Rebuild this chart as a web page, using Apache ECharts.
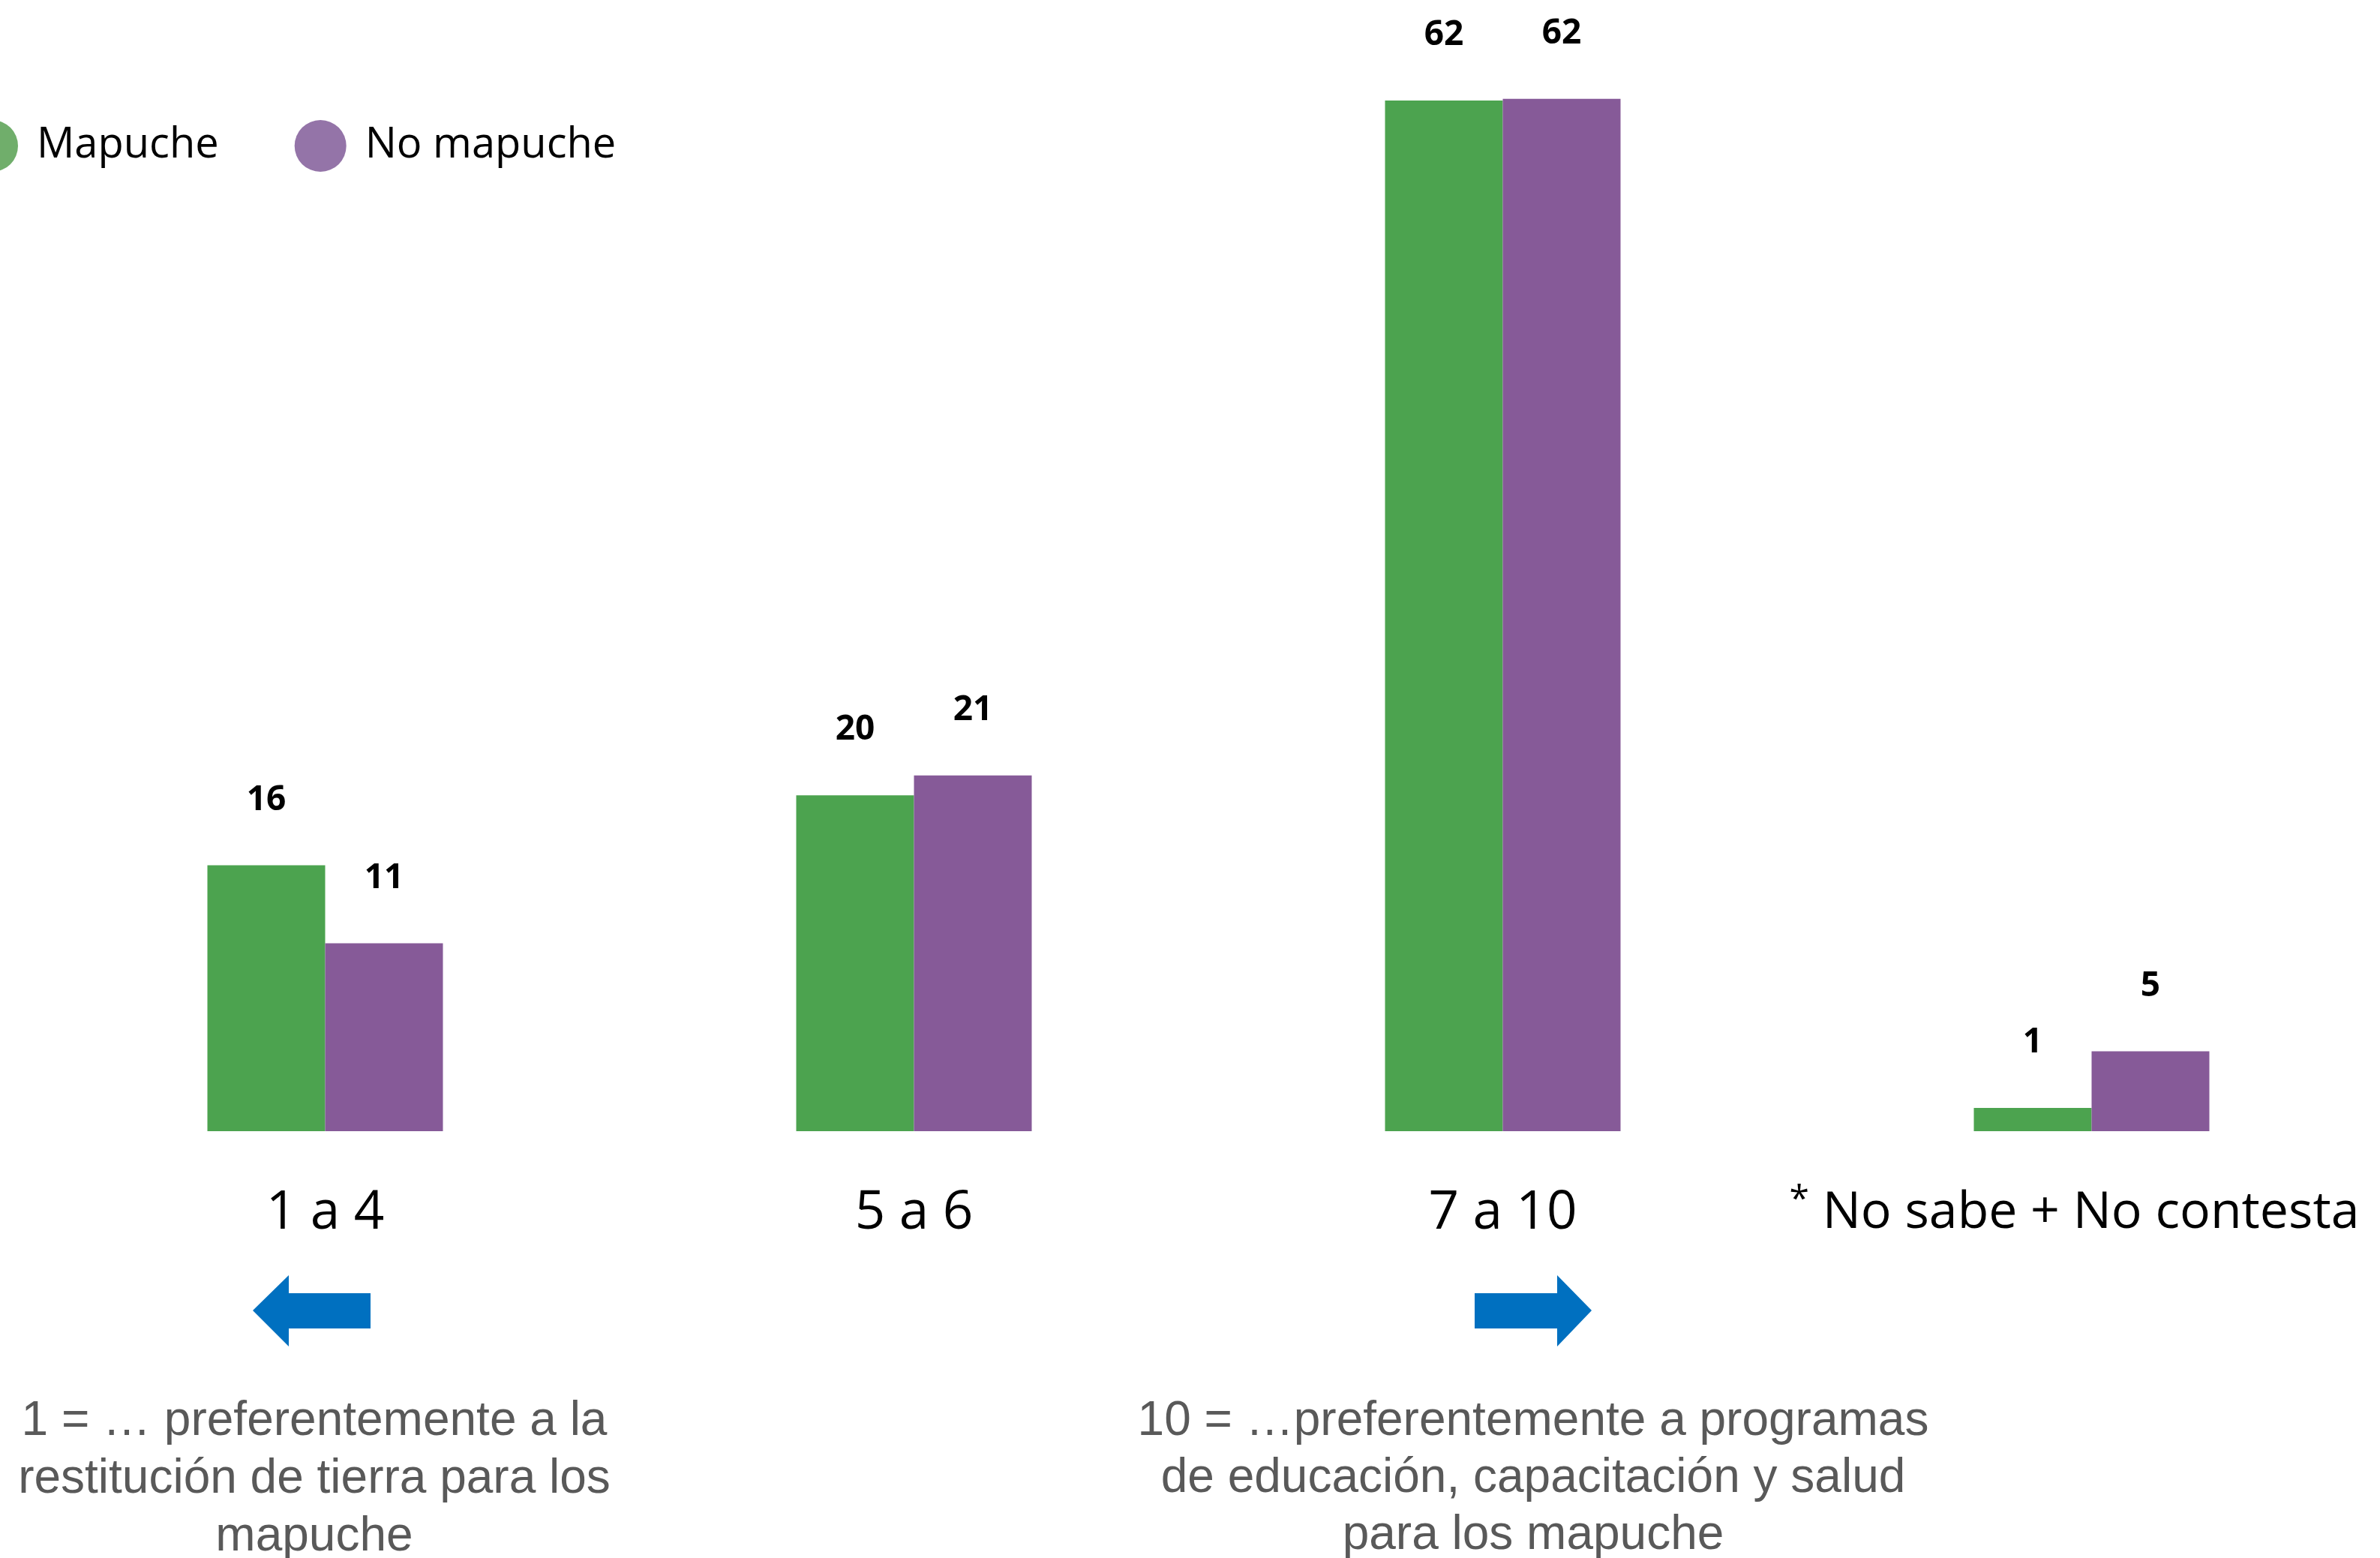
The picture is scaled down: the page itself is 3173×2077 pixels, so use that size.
<!DOCTYPE html>
<html>
<head>
<meta charset="utf-8">
<script src="https://cdn.jsdelivr.net/npm/echarts@6/dist/echarts.min.js"></script>
<style>
html,body{margin:0;padding:0;background:#fff;}
#chart{width:3173px;height:2077px;}
</style>
</head>
<body>
<div id="chart"></div>
<script>
// ---- data ----
var categories = ['1 a 4', '5 a 6', '7 a 10', '* No sabe + No contesta'];
var seriesNames = ['Mapuche', 'No mapuche'];
var mapucheValues = [16, 20.2, 62, 1.4];
var noMapucheValues = [11.3, 21.4, 62.1, 4.8];
var leftNote = '1 = \u2026 preferentemente a la\nrestituci\u00f3n de tierra para los\nmapuche';
var rightNote = '10 = \u2026preferentemente a programas\nde educaci\u00f3n, capacitaci\u00f3n y salud\npara los mapuche';

var GREEN = '#4CA34F';
var PURPLE = '#865A98';
var ARROW = '#0070C0';

var chart = echarts.init(document.getElementById('chart'), null, {renderer: 'canvas'});

var labelStyle = {
  show: true,
  position: 'top',
  distance: 64,
  fontSize: 46,
  fontWeight: 'bold',
  fontFamily: 'Noto Sans',
  color: '#000',
  formatter: function (p) { return Math.round(p.value); }
};

var option = {
  backgroundColor: '#fff',
  animation: false,
  legend: {
    left: -50,
    top: 155,
    itemWidth: 69,
    itemHeight: 69,
    itemGap: 101,
    icon: 'circle',
    textStyle: {fontSize: 56, fontFamily: 'Open Sans', color: '#000', padding: [0, 0, 0, 20]},
    data: [
      {name: seriesNames[0], itemStyle: {color: '#70AE6B'}},
      {name: seriesNames[1], itemStyle: {color: '#9474A8'}}
    ]
  },
  grid: {left: 41, top: 1, width: 3140, height: 1507, containLabel: false, outerBoundsMode: 'none'},
  xAxis: {
    type: 'category',
    data: categories,
    axisLine: {show: false},
    axisTick: {show: false},
    axisLabel: {
      margin: 68,
      fontSize: 71,
      fontFamily: 'Open Sans',
      color: '#000',
      interval: 0,
      hideOverlap: false,
      formatter: function (v) {
        if (v.charAt(0) === '*') {
          return '{sup|*}{last|' + v.slice(1) + '}';
        }
        return '{main|' + v + '}';
      },
      rich: {
        main: {fontSize: 71, fontFamily: 'Open Sans', color: '#000', lineHeight: 84},
        last: {fontSize: 68, fontFamily: 'Open Sans', color: '#000', lineHeight: 84, padding: [0, 46, 0, 0]},
        sup: {fontSize: 48, fontFamily: 'Open Sans', color: '#000', verticalAlign: 'top', lineHeight: 84, padding: [0, 0, 30, 0]}
      }
    }
  },
  yAxis: {
    type: 'value',
    min: 0,
    max: 68,
    show: false,
    splitLine: {show: false}
  },
  series: [
    {
      name: seriesNames[0],
      type: 'bar',
      data: mapucheValues,
      barWidth: 157,
      barGap: '0%',
      itemStyle: {color: GREEN},
      label: labelStyle
    },
    {
      name: seriesNames[1],
      type: 'bar',
      data: noMapucheValues,
      barWidth: 157,
      barGap: '0%',
      itemStyle: {color: PURPLE},
      label: labelStyle
    }
  ],
  graphic: [
    {
      type: 'polygon',
      shape: {points: [[337, 1747], [385, 1700], [385, 1724], [494, 1724], [494, 1771], [385, 1771], [385, 1795]]},
      style: {fill: ARROW}
    },
    {
      type: 'polygon',
      shape: {points: [[2122, 1747], [2076, 1700], [2076, 1724], [1966, 1724], [1966, 1771], [2076, 1771], [2076, 1795]]},
      style: {fill: ARROW}
    },
    {
      type: 'text',
      x: 419,
      y: 1857,
      style: {text: leftNote, fontSize: 64, fontFamily: 'Liberation Sans', fill: '#595959', align: 'center', verticalAlign: 'top', lineHeight: 77}
    },
    {
      type: 'text',
      x: 2044,
      y: 1857,
      style: {text: rightNote, fontSize: 64, fontFamily: 'Liberation Sans', fill: '#595959', align: 'center', verticalAlign: 'top', lineHeight: 76}
    }
  ]
};
chart.setOption(option);
</script>
</body>
</html>
